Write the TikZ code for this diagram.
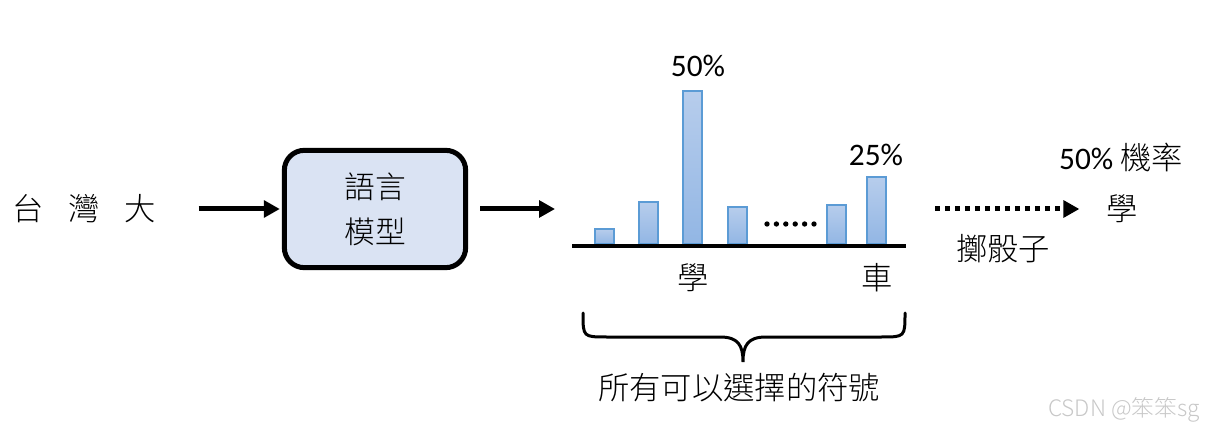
\documentclass[tikz,border=0pt]{standalone}
\usepackage{fontspec}
\setmainfont{Carlito}
\newfontfamily\cjk{Noto Sans CJK TC}[UprightFont=* Light]
\usetikzlibrary{arrows.meta}
\definecolor{boxfill}{RGB}{218,227,243}
\definecolor{barline}{RGB}{91,155,213}
\definecolor{bartop}{RGB}{183,205,236}
\definecolor{barbot}{RGB}{146,182,228}
\definecolor{wmark}{RGB}{200,200,200}

\begin{document}
\begin{tikzpicture}[x=.75pt,y=-.75pt,font=\fontsize{23.5}{28}\selectfont\cjk,
  txt/.style={inner sep=0pt},
  arr/.style={line width=3.75pt,-{Triangle[length=12pt,width=12.5pt]}},
  dotarr/.style={arr,dash pattern=on 3.75pt off 3.75pt},
  bar/.style={draw=barline,line width=.8pt,top color=bartop,bottom color=barbot}]
\useasboundingbox (0,0) rectangle (1207,431);
% input and model
\node[txt] (inp) at (84,209) {台\hspace{18.5pt}灣\hspace{18.5pt}大};
\node[draw,line width=3.75pt,rounded corners=15pt,fill=boxfill,
  minimum width=136pt,minimum height=88pt,align=center,
  font=\fontsize{23}{33.75}\selectfont\cjk] (lm) at (375,209) {語言\\模型};
\coordinate (cin) at (555,209);
\draw[arr,shorten <=32pt,shorten >=1.5pt] (inp) -- (lm);
\draw[arr,shorten <=9pt] (lm) -- (cin);
% distribution
\foreach \xl/\yt in {595/229,639/202,683/91,728/207,827/205,867/177}
  \draw[bar] (\xl,244) rectangle (\xl+19,\yt);
\foreach \i in {0,...,5}
  \fill (767+\i*9.4,224) circle (2pt);
\coordinate (axisL) at (572,246);
\coordinate (axisR) at (906,246);
\draw[line width=3pt] (axisL) -- (axisR);
\node[txt] (p50) at (698,66) {\rmfamily 50\%};
\node[txt] (p25) at (876,155) {\rmfamily 25\%};
\node[txt] (lblA) at (693,278) {學};
\node[txt] (lblB) at (877,278) {車};
% brace
\draw[line width=2.25pt,line cap=round] (583,313) .. controls (583,337) and (583,337) .. (607,337)
  -- (720,337) .. controls (738,337) and (743,345) .. (743,362)
  .. controls (743,345) and (748,337) .. (766,337) -- (881,337)
  .. controls (905,337) and (905,337) .. (905,313);
\node[txt] (allsym) at (739,388) {所有可以選擇的符號};
% sampling
\coordinate (cout) at (935,209);
\node[txt] (res) at (1122,209) {學};
\draw[dotarr,shorten >=20pt] (cout) -- (res);
\node[txt] (prob) at (1121,157) {{\rmfamily 50\%} 機率};
\node[txt] (dice) at (1003,249) {擲骰子};
\node[txt,anchor=east,wmark,font=\fontsize{17}{20}\selectfont\cjk] (wmk) at (1200,410) {CSDN @笨笨sg};
\end{tikzpicture}
\end{document}
